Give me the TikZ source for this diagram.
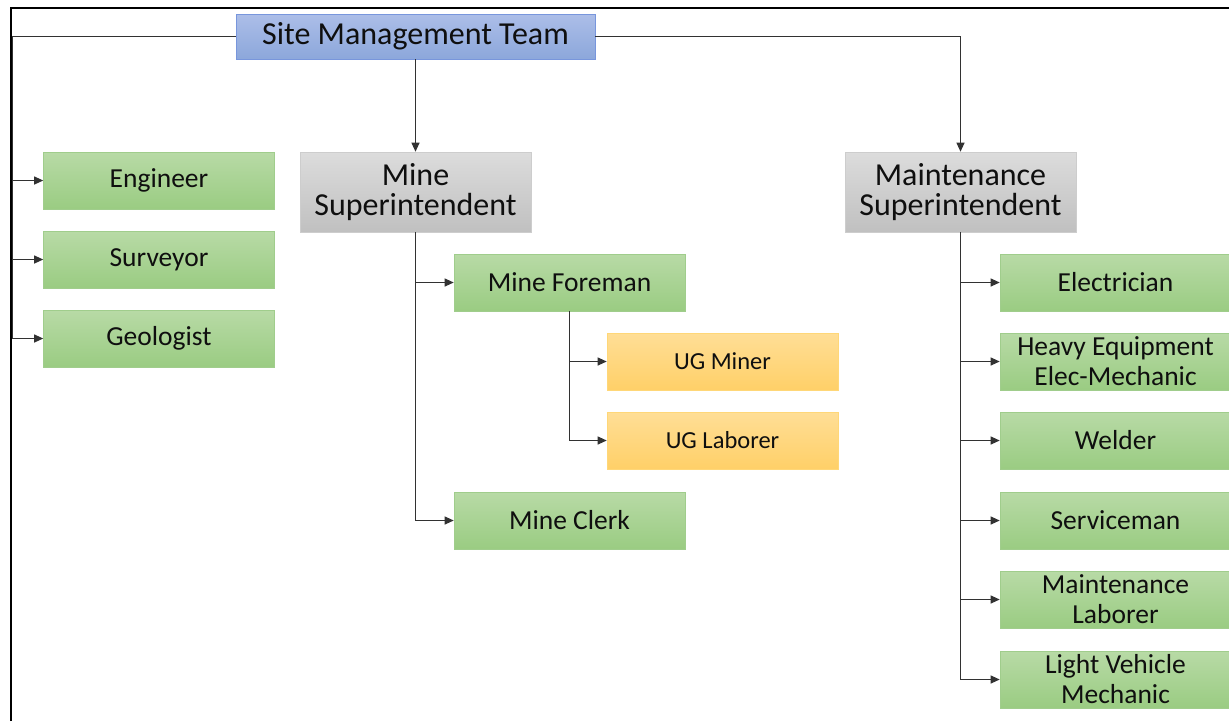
\documentclass[tikz,border=0pt]{standalone}
\usepackage{fontspec}
\setmainfont{Carlito}
\usetikzlibrary{arrows.meta}
\definecolor{txt}{RGB}{15,15,15}
\definecolor{linec}{RGB}{50,50,50}
\definecolor{bluet}{RGB}{172,190,232}
\definecolor{blueb}{RGB}{140,167,219}
\definecolor{blued}{RGB}{120,150,220}
\definecolor{grayt}{RGB}{220,220,220}
\definecolor{grayb}{RGB}{192,192,192}
\definecolor{grayd}{RGB}{205,205,205}
\definecolor{greent}{RGB}{184,218,166}
\definecolor{greenb}{RGB}{154,204,130}
\definecolor{greend}{RGB}{160,205,140}
\definecolor{yelt}{RGB}{255,222,150}
\definecolor{yelb}{RGB}{255,208,104}
\definecolor{yeld}{RGB}{255,215,120}
\tikzset{
  box/.style={rectangle, inner sep=0pt, align=center, text=txt, line width=0.6pt, shading=axis, shading angle=0},
  bluebox/.style={box, draw=blued, top color=bluet, bottom color=blueb, minimum width=359pt, minimum height=45pt, font=\fontsize{32}{34}\selectfont},
  graybox/.style={box, draw=grayd, top color=grayt, bottom color=grayb, minimum width=231pt, minimum height=80pt, font=\fontsize{32}{30}\selectfont},
  greenbox/.style={box, draw=greend, top color=greent, bottom color=greenb, minimum width=231pt, minimum height=57pt, font=\fontsize{27.5}{30}\selectfont},
  yelbox/.style={box, draw=yeld, top color=yelt, bottom color=yelb, minimum width=231pt, minimum height=57pt, font=\fontsize{24.5}{28}\selectfont},
  conn/.style={draw=linec, line width=1pt},
  arr/.style={conn, -{Triangle[length=9pt,width=8pt]}}
}
\begin{document}
\begin{tikzpicture}[x=1pt,y=-1pt]
\useasboundingbox (0,0) rectangle (1229,721);
\fill[white] (0,0) rectangle (1229,721);
% frame
\draw[line width=2.6pt, black] (11,721) -- (11,8) -- (1229,8);
% nodes
\node[bluebox] (sm) at (415.5,36.5) {Site Management Team};
\node[graybox] (ms) at (415.5,192) {Mine\\Superintendent};
\node[graybox] (mts) at (960.5,192) {Maintenance\\Superintendent};
\node[greenbox] (eng) at (159,180.5) {Engineer};
\node[greenbox] (sur) at (159,259.5) {Surveyor};
\node[greenbox] (geo) at (159,338.5) {Geologist};
\node[greenbox] (mf) at (569.5,282.5) {Mine Foreman};
\node[yelbox] (ugm) at (722.5,361.5) {UG Miner};
\node[yelbox] (ugl) at (722.5,440.5) {UG Laborer};
\node[greenbox] (mc) at (569.5,520.5) {Mine Clerk};
\node[greenbox] (ele) at (1115.5,282.5) {Electrician};
\node[greenbox] (hev) at (1115.5,361.5) {Heavy Equipment\\Elec-Mechanic};
\node[greenbox] (wel) at (1115.5,440.5) {Welder};
\node[greenbox] (ser) at (1115.5,520.5) {Serviceman};
\node[greenbox] (mla) at (1115.5,599.5) {Maintenance\\Laborer};
\node[greenbox] (lvm) at (1115.5,679.5) {Light Vehicle\\Mechanic};
% connectors
\coordinate (lb) at (12,36.5);
\draw[arr] (sm.west) -- (lb) |- (geo.west);
\draw[arr] (lb |- eng.west) -- (eng.west);
\draw[arr] (lb |- sur.west) -- (sur.west);
\draw[arr] (sm.south) -- (ms.north);
\draw[arr] (sm.east) -| (mts.north);
\draw[arr] (ms.south) |- (mc.west);
\draw[arr] (ms.south |- mf.west) -- (mf.west);
\draw[arr] (mf.south) |- (ugl.west);
\draw[arr] (mf.south |- ugm.west) -- (ugm.west);
\draw[arr] (mts.south) |- (lvm.west);
\foreach \n in {ele,hev,wel,ser,mla}{
  \draw[arr] (mts.south |- \n.west) -- (\n.west);
}
\end{tikzpicture}
\end{document}
